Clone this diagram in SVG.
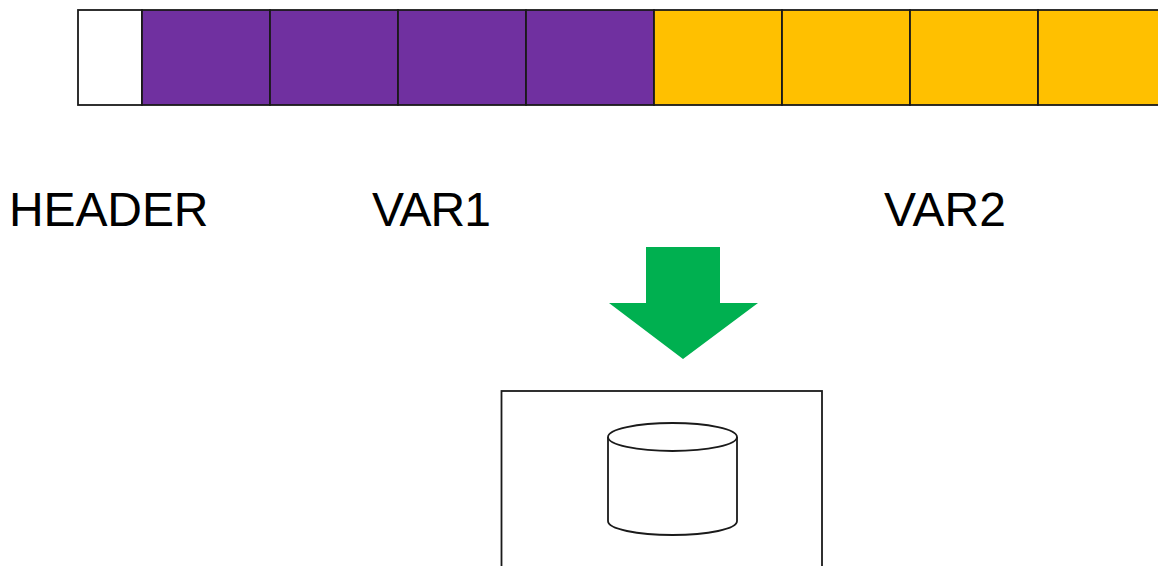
<svg xmlns="http://www.w3.org/2000/svg" width="1158" height="566" viewBox="0 0 1158 566">
<style>
.c{stroke:#1a1a1a;stroke-width:1.8}
.p{fill:#7030a0}
.y{fill:#ffc000}
.t{font-family:"Liberation Sans",Arial,sans-serif;font-size:48px;fill:#000}
.o{fill:none;stroke:#1a1a1a;stroke-width:1.8}
</style>
<rect width="1158" height="566" fill="#fff"/>
<g id="cells">
<rect class="c" x="78" y="10" width="64" height="95" fill="#fff"/>
<rect class="c p" x="142" y="10" width="128" height="95"/>
<rect class="c p" x="270" y="10" width="128" height="95"/>
<rect class="c p" x="398" y="10" width="128" height="95"/>
<rect class="c p" x="526" y="10" width="128" height="95"/>
<rect class="c y" x="654" y="10" width="128" height="95"/>
<rect class="c y" x="782" y="10" width="128" height="95"/>
<rect class="c y" x="910" y="10" width="128" height="95"/>
<rect class="c y" x="1038" y="10" width="128" height="95"/>
</g>
<g id="labels">
<text class="t" x="9" y="226" textLength="199.500" lengthAdjust="spacing">HEADER</text>
<text class="t" x="372" y="226" textLength="119" lengthAdjust="spacing">VAR1</text>
<text class="t" x="884" y="226">VAR2</text>
</g>
<g id="arrow"><polygon points="646,247 720,247 720,303 758,303 683,359 609,303 646,303" fill="#00b050"/></g>
<g id="box"><rect class="o" x="501.500" y="391" width="320.500" height="190"/></g>
<g id="cylinder">
<path class="o" d="M608 437V521C608 529 637 535 672.500 535C708 535 737 529 737 521V437"/>
<ellipse class="o" cx="672.500" cy="437" rx="64.500" ry="14"/>
</g>
</svg>
